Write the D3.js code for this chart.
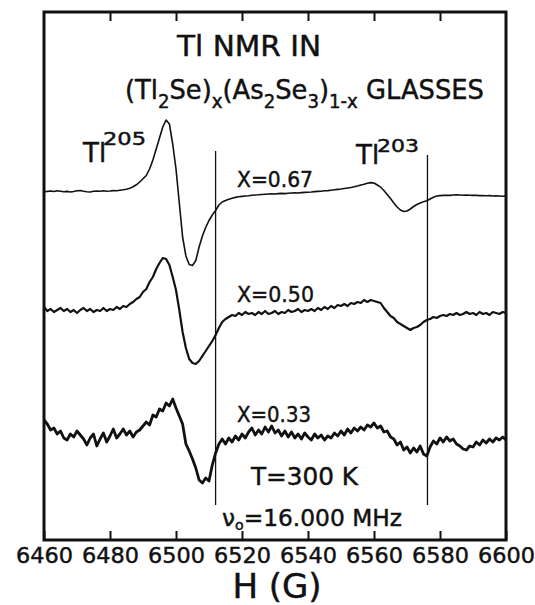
<!DOCTYPE html>
<html>
<head>
<meta charset="utf-8">
<script src="https://cdn.jsdelivr.net/npm/d3@7"></script>
<style>
  body { margin: 0; background: #fff; }
  svg { display: block; }
  text { font-family: "DejaVu Sans", sans-serif; fill: #111; stroke: #111; stroke-width: 0.45px; }
</style>
</head>
<body>
<svg width="535" height="605"></svg>
<script>
// field axis, gauss
var fieldTicks = [6460, 6480, 6500, 6520, 6540, 6560, 6580, 6600];
var fieldStart = 6460;   // first sample, 1 G steps

// signal (arbitrary units, recorder trace height)
var trace067 = [
    34.83, 34.86, 34.90, 34.85, 34.92, 34.88, 34.82, 34.86, 34.80, 34.85,
    34.92, 34.95, 34.88, 34.83, 34.80, 34.87, 34.90, 34.88, 34.92, 34.88,
    34.90, 34.94, 34.92, 34.97, 35.02, 35.08, 35.18, 35.32, 35.52, 35.80,
    36.12, 36.45, 37.10, 38.00, 39.10, 40.20, 41.30, 42.00, 41.60, 39.60,
    37.10, 33.70, 30.30, 28.40, 27.55, 27.45, 27.95, 29.30, 30.40, 31.25,
    31.95, 32.50, 32.95, 33.50, 33.80, 33.95, 34.08, 34.18, 34.26, 34.32,
    34.36, 34.40, 34.42, 34.48, 34.50, 34.52, 34.55, 34.58, 34.60, 34.62,
    34.60, 34.64, 34.66, 34.64, 34.68, 34.70, 34.72, 34.70, 34.74, 34.76,
    34.78, 34.80, 34.84, 34.86, 34.88, 34.92, 34.94, 34.98, 35.02, 35.06,
    35.10, 35.15, 35.20, 35.25, 35.32, 35.40, 35.50, 35.58, 35.68, 35.74,
    35.70, 35.50, 35.28, 34.95, 34.55, 34.15, 33.70, 33.30, 33.00, 32.85,
    32.90, 33.10, 33.35, 33.55, 33.70, 33.82, 33.92, 34.10, 34.28, 34.40,
    34.44, 34.46, 34.48, 34.46, 34.50, 34.52, 34.50, 34.48, 34.50, 34.48,
    34.46, 34.48, 34.44, 34.45, 34.42, 34.44, 34.40, 34.42, 34.40, 34.38,
    34.40
];

var trace050 = [
    23.3, 22.9, 23.1, 22.8, 23.0, 23.2, 22.9, 23.1, 22.8, 23.0,
    22.7, 23.0, 23.2, 22.9, 23.1, 22.8, 23.0, 22.9, 23.2, 22.9,
    23.1, 23.0, 23.3, 23.1, 23.4, 23.3, 23.6, 23.8, 24.1, 24.3,
    24.8, 25.1, 25.8, 26.3, 27.1, 27.7, 28.2, 28.1, 27.5, 26.3,
    25.0, 23.0, 20.8, 19.2, 18.1, 17.7, 17.6, 17.9, 18.4, 18.9,
    19.4, 19.9, 20.5, 21.2, 21.8, 22.1, 22.3, 22.5, 22.4, 22.7,
    22.5, 22.8, 22.6, 22.7, 22.5, 22.8, 22.6, 22.9, 22.6, 22.7,
    22.9, 22.6, 22.8, 22.7, 23.0, 22.8, 22.9, 23.1, 22.8, 23.0,
    22.9, 23.1, 22.9, 23.2, 23.0, 23.3, 23.1, 23.4, 23.2, 23.5,
    23.4, 23.6, 23.4, 23.7, 23.6, 23.8, 23.7, 24.0, 23.8, 24.0,
    23.9, 23.8, 23.7, 23.2, 22.8, 22.4, 22.2, 21.8, 21.6, 21.4,
    21.2, 21.0, 21.2, 21.3, 21.5, 21.8, 22.0, 22.1, 22.3, 22.2,
    22.4, 22.5, 22.4, 22.6, 22.5, 22.7, 22.5, 22.6, 22.8, 22.6,
    22.7, 22.5, 22.8, 22.6, 22.7, 22.5, 22.8, 22.7, 22.6, 22.8,
    22.7
];

var trace033 = [
    12.0, 11.6, 11.0, 11.2, 10.6, 10.9, 10.2, 10.0, 10.6, 10.3,
    10.9, 10.5, 10.1, 9.5, 10.2, 10.6, 9.4, 10.1, 10.7, 9.8,
    10.4, 11.1, 10.2, 10.6, 11.1, 10.5, 10.9, 10.3, 10.8, 11.0,
    11.4, 11.8, 11.5, 12.5, 12.3, 13.1, 12.9, 13.7, 13.4, 14.1,
    13.2, 12.4, 11.6, 9.6, 8.9, 8.1, 7.2, 6.0, 5.7, 6.2,
    5.9, 7.5, 8.7, 9.6, 10.1, 9.6, 10.2, 9.8, 10.4, 10.0,
    10.6, 10.2, 10.8, 11.2, 10.5, 11.0, 10.6, 11.3, 10.8, 11.4,
    10.7, 11.0, 10.4, 10.9, 10.3, 10.8, 10.2, 10.6, 10.1, 10.7,
    10.3, 10.0, 10.6, 10.2, 10.5, 10.0, 10.4, 10.2, 10.7, 10.4,
    10.9, 10.5, 11.1, 10.7, 11.2, 10.9, 11.3, 11.0, 11.5, 11.3,
    11.7, 11.2, 11.4, 10.8, 10.9, 10.3, 10.1, 9.5, 9.8, 9.0,
    9.3, 8.7, 9.2, 8.8, 9.4, 8.6, 8.4, 9.3, 9.9, 9.6,
    10.2, 9.8, 10.3, 9.9, 10.1, 9.6, 9.4, 9.1, 9.0, 9.4,
    9.3, 9.8, 9.5, 10.0, 9.7, 10.1, 9.8, 10.2, 10.0, 10.3,
    10.0
];

// Tl205 / Tl203 marker lines
var markerField = [6512, 6576.2];
var markerTop = [38.9, 38.5];
var markerBottom = [3.5, 3.5];

var svg = d3.select("svg");

var x = d3.scaleLinear()
    .domain([6460, 6600])
    .range([44, 506]);

var y = d3.scaleLinear()
    .domain([0, 52.8])
    .range([540, 12]);

var line = d3.line()
    .x(function(d, i) { return x(fieldStart + i); })
    .y(function(d) { return y(d); });

// traces
var traces = [
    { values: trace067, width: 1.6 },
    { values: trace050, width: 2.2 },
    { values: trace033, width: 2.8 }
];

svg.selectAll("path.trace")
    .data(traces)
    .enter()
    .append("path")
    .attr("class", "trace")
    .attr("d", function(d) { return line(d.values); })
    .attr("fill", "none")
    .attr("stroke", "#111")
    .attr("stroke-width", function(d) { return d.width; })
    .attr("stroke-linejoin", "round");

// vertical markers
svg.selectAll("line.marker")
    .data(markerField)
    .enter()
    .append("line")
    .attr("class", "marker")
    .attr("x1", function(d) { return x(d); })
    .attr("x2", function(d) { return x(d); })
    .attr("y1", function(d, i) { return y(markerTop[i]); })
    .attr("y2", function(d, i) { return y(markerBottom[i]); })
    .attr("stroke", "#111")
    .attr("stroke-width", 1.3);

// axes
var bottomAxis = d3.axisBottom(x)
    .tickValues(fieldTicks)
    .tickSizeInner(-9)
    .tickSizeOuter(0)
    .tickPadding(7)
    .tickFormat(d3.format("d"));

var gb = svg.append("g")
    .attr("transform", "translate(0," + y(0) + ")")
    .call(bottomAxis);

gb.select(".domain").remove();
gb.selectAll(".tick line").attr("stroke", "#111").attr("stroke-width", 2);
gb.selectAll(".tick text")
    .style("font-family", "DejaVu Sans, sans-serif")
    .style("font-size", "22px")
    .attr("fill", "#111")
    .attr("textLength", 57)
    .attr("lengthAdjust", "spacingAndGlyphs");

var topAxis = d3.axisTop(x)
    .tickValues(fieldTicks.slice(1, -1))
    .tickSizeInner(-9)
    .tickSizeOuter(0)
    .tickFormat("");

var gt = svg.append("g")
    .attr("transform", "translate(0," + y(52.8) + ")")
    .call(topAxis);

gt.select(".domain").remove();
gt.selectAll(".tick line").attr("stroke", "#111").attr("stroke-width", 2);

// frame
svg.append("rect")
    .attr("x", x(6460))
    .attr("y", y(52.8))
    .attr("width", x(6600) - x(6460))
    .attr("height", y(0) - y(52.8))
    .attr("fill", "none")
    .attr("stroke", "#111")
    .attr("stroke-width", 3);

// annotations
function label(tx, ty, size, str, len) {
    var t = svg.append("text")
        .attr("x", tx)
        .attr("y", ty)
        .style("font-size", size + "px")
        .text(str);
    if (len) {
        t.attr("textLength", len).attr("lengthAdjust", "spacingAndGlyphs");
    }
    return t;
}

label(177, 56, 28, "Tl  NMR  IN", 144);

var sub = svg.append("text")
    .attr("x", 125)
    .attr("y", 99)
    .style("font-size", "27px")
    .attr("textLength", 359)
    .attr("lengthAdjust", "spacingAndGlyphs");
[["(Tl", 0], ["2", 1], ["Se)", 0], ["x", 1], ["(As", 0], ["2", 1], ["Se", 0], ["3", 1], [")", 0], ["1-x", 1], [" GLASSES", 0]]
    .forEach(function(p, i, arr) {
        var prev = i > 0 ? arr[i - 1][1] : 0;
        var ts = sub.append("tspan").text(p[0]);
        if (p[1]) {
            ts.style("font-size", "19px").attr("dy", prev ? 0 : 9);
        } else {
            ts.attr("dy", prev ? -9 : 0);
        }
    });

label(83, 162, 26, "Tl");
label(103, 145, 18, "205", 43);
label(356, 164, 26, "Tl");
label(377, 152, 18, "203", 42);

label(237, 187, 22, "X=0.67", 76);
label(237, 302, 22, "X=0.50", 77);
label(237, 422, 22, "X=0.33", 74);
label(251, 485, 25, "T=300 K", 107);

var nu = svg.append("text")
    .attr("x", 222)
    .attr("y", 526)
    .style("font-size", "23px")
    .attr("textLength", 180)
    .attr("lengthAdjust", "spacingAndGlyphs");
nu.append("tspan").text("\u03bd");
nu.append("tspan").text("o").style("font-size", "14px").attr("dy", 4);
nu.append("tspan").text("=16.000 MHz").attr("dy", -4);

svg.append("text")
    .attr("x", 277)
    .attr("y", 598)
    .attr("text-anchor", "middle")
    .style("font-size", "34px")
    .text("H (G)");
</script>
</body>
</html>
